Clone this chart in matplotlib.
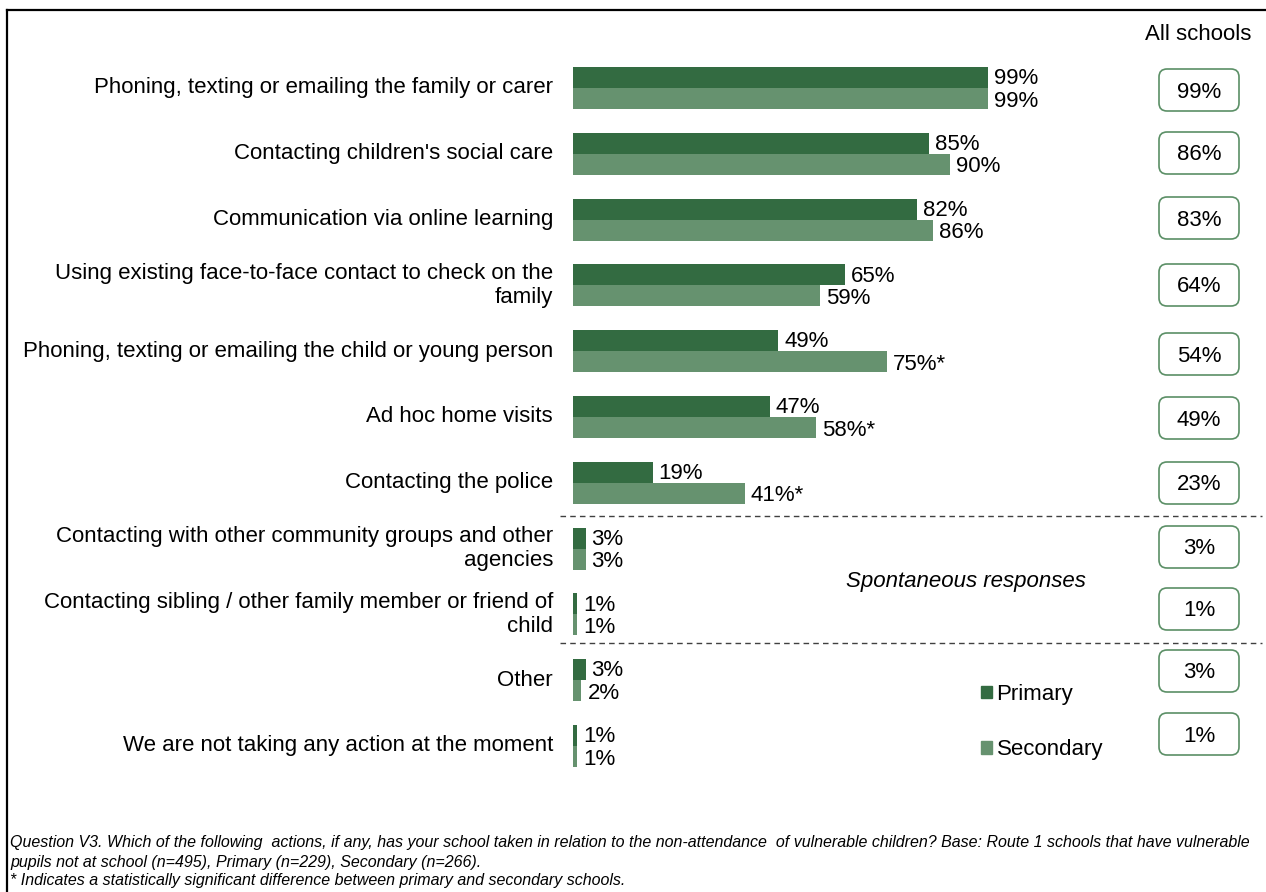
import matplotlib.pyplot as plt
from matplotlib.patches import FancyBboxPatch, Patch

plt.rcParams['font.family'] = ['Liberation Sans', 'DejaVu Sans']

# data
actions = ['Phoning, texting or emailing the family or carer',
           "Contacting children's social care",
           'Communication via online learning',
           'Using existing face-to-face contact to check on the\nfamily',
           'Phoning, texting or emailing the child or young person',
           'Ad hoc home visits',
           'Contacting the police',
           'Contacting with other community groups and other\nagencies',
           'Contacting sibling / other family member or friend of\nchild',
           'Other',
           'We are not taking any action at the moment']
primary = [99, 85, 82, 65, 49, 47, 19, 3, 1, 3, 1]
secondary = [99, 90, 86, 59, 75, 58, 41, 3, 1, 2, 1]
all_schools = [99, 86, 83, 64, 54, 49, 23, 3, 1, 3, 1]
sig_secondary = [False, False, False, False, True, True, True, False, False, False, False]

c_prim = '#336b41'
c_sec = '#66926f'
c_box = '#5b8f66'
fs = 16

W, H = 1266, 892
fig = plt.figure(figsize=(W / 100, H / 100), dpi=100)

# bar axes: 0..100% spans 419 px from x=573, rows 65.8 px apart starting at y=88
x0, px_per = 573, 4.19
row0, row_h = 88, 65.8
ax = fig.add_axes([x0 / W, 0, 100 * px_per / W, 1])
ax.set_xlim(0, 100)
ax.set_ylim((H - row0) / row_h, -row0 / row_h)
ax.axis('off')

pos = list(range(len(actions)))
bh = 0.32
ax.barh([p - bh / 2 for p in pos], primary, height=bh, color=c_prim, label='Primary')
ax.barh([p + bh / 2 for p in pos], secondary, height=bh, color=c_sec, label='Secondary')

gap = 6 / px_per
for p, lab, v1, v2, s in zip(pos, actions, primary, secondary, sig_secondary):
    ax.text(-20 / px_per, p, lab, ha='right', va='center', multialignment='right',
            fontsize=fs, linespacing=1.2, clip_on=False)
    ax.text(v1 + gap, p - bh / 2 + 0.02, f'{v1}%', ha='left', va='center', fontsize=fs)
    ax.text(v2 + gap, p + bh / 2 + 0.04, f'{v2}%' + ('*' if s else ''), ha='left',
            va='center', fontsize=fs)

# overlay in pixel coordinates
ov = fig.add_axes([0, 0, 1, 1], zorder=3)
ov.set_xlim(0, W)
ov.set_ylim(H, 0)
ov.axis('off')
ov.patch.set_alpha(0)

# frame (top and left only visible)
ov.plot([7, W + 5], [10, 10], color='black', lw=1.6)
ov.plot([7, 7], [10, H + 5], color='black', lw=1.6)

ov.text(1198, 34, 'All schools', ha='center', va='center', fontsize=fs)

box_y = [90, 153, 218, 285, 354, 418, 483, 547, 609, 671, 734]
for v, by in zip(all_schools, box_y):
    ov.add_patch(FancyBboxPatch((1159, by - 21), 80, 42,
                                boxstyle='round,pad=0,rounding_size=8',
                                fc='white', ec=c_box, lw=1.2))
    ov.text(1199, by + 2, f'{v}%', ha='center', va='center', fontsize=fs)

for ly in [516, 643]:
    ov.plot([560, 1262], [ly, ly], color='#404040', lw=1, dashes=(4, 3))

ov.text(966, 582, 'Spontaneous responses', ha='center', va='center',
        fontsize=fs, style='italic')

handles = [Patch(color=c_prim, label='Primary'), Patch(color=c_sec, label='Secondary')]
fig.legend(handles=handles, loc='upper left', bbox_to_anchor=(981 / W, 1 - 684 / H),
           frameon=False, fontsize=fs, handlelength=0.5, handleheight=0.5,
           handletextpad=0.2, labelspacing=1.55, borderpad=0, borderaxespad=0)

notes = ['Question V3. Which of the following  actions, if any, has your school taken in relation to the non-attendance  of vulnerable children? Base: Route 1 schools that have vulnerable',
         'pupils not at school (n=495), Primary (n=229), Secondary (n=266).',
         '* Indicates a statistically significant difference between primary and secondary schools.']
for ny, line in zip([842, 862, 880], notes):
    ov.text(10, ny, line, ha='left', va='center', fontsize=11.55, style='italic')

fig.savefig('out.png', dpi=100)
